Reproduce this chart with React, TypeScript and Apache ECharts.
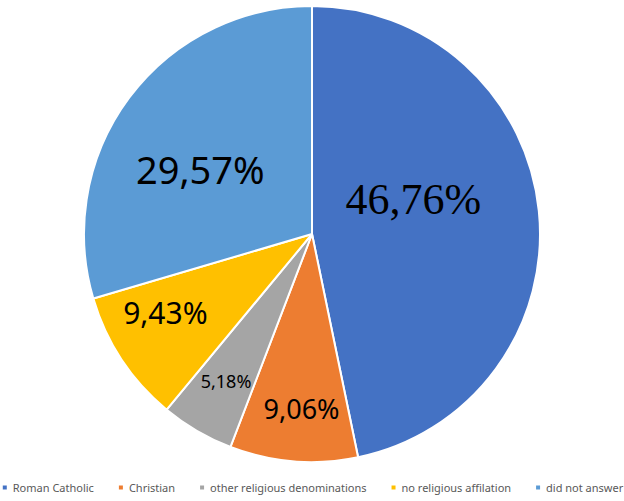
import React, { useEffect, useRef } from "react";
import * as echarts from "echarts";

const categories = [
  "Roman Catholic",
  "Christian",
  "other religious denominations",
  "no religious affilation",
  "did not answer",
];
const values = [46.76, 9.06, 5.18, 9.43, 29.57];
const colors = ["#4472C4", "#ED7D31", "#A5A5A5", "#FFC000", "#5B9BD5"];
const labelSizes = [44, 27, 18, 30, 38];
const labelShift: [number, number][] = [
  [-15, -23],
  [-1, 58],
  [-27, 46],
  [-49, 14],
  [-18, 5],
];

export default function App() {
  const ref = useRef<HTMLDivElement>(null);
  useEffect(() => {
    if (!ref.current) return;
    const chart = echarts.init(ref.current, null, { renderer: "svg" });
    chart.setOption({
      animation: false,
      backgroundColor: "#ffffff",
      color: colors,
      textStyle: { fontFamily: "Noto Sans" },
      legend: {
        bottom: 8,
        left: "center",
        padding: 0,
        itemWidth: 6,
        itemHeight: 6,
        itemGap: 23,
        icon: "rect",
        textStyle: { fontFamily: "Noto Sans", fontSize: 11, color: "#595959" },
        data: categories,
      },
      series: [
        {
          type: "pie",
          center: [312, 234],
          radius: 228,
          startAngle: 90,
          clockwise: true,
          itemStyle: { borderColor: "#ffffff", borderWidth: 2 },
          label: {
            show: true,
            position: "inside",
            color: "#000000",
            fontFamily: "Noto Sans",
            formatter: (p: any) => p.value.toFixed(2).replace(".", ",") + "%",
          },
          labelLine: { show: false },
          labelLayout: (p: any) => ({ dx: labelShift[p.dataIndex][0], dy: labelShift[p.dataIndex][1] }),
          data: categories.map((name, i) => ({
            name,
            value: values[i],
            label:
              i === 0
                ? { fontFamily: "Liberation Serif", fontSize: labelSizes[i], fontWeight: "normal" }
                : { fontSize: labelSizes[i] },
          })),
        },
      ],
    });
    return () => chart.dispose();
  }, []);
  return (
    <div
      ref={ref}
      style={{ position: "fixed", left: 0, top: 0, width: 624, height: 501 }}
    />
  );
}
